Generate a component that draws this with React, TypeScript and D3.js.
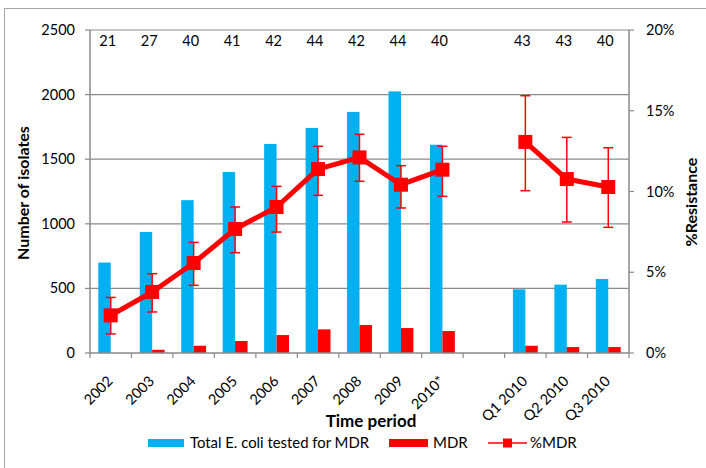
import React from "react";
import * as d3 from "d3";

const categories = ["2002", "2003", "2004", "2005", "2006", "2007", "2008", "2009", "2010*", "", "Q1 2010", "Q2 2010", "Q3 2010"];
const totalTested = [700, 937, 1183, 1401, 1618, 1742, 1866, 2025, 1612, null, 493, 529, 573];
const mdrCounts = [0, 25, 56, 93, 139, 183, 217, 193, 170, null, 56, 46, 46];
const pctMDR = [2.33, 3.78, 5.57, 7.68, 9.04, 11.39, 12.11, 10.42, 11.35, null, 13.07, 10.77, 10.28];
const pctHigh = [3.44, 4.91, 6.85, 9.04, 10.32, 12.8, 13.54, 11.6, 12.8, null, 15.93, 13.35, 12.71];
const pctLow = [1.18, 2.54, 4.19, 6.21, 7.49, 9.76, 10.63, 8.98, 9.7, null, 10.05, 8.11, 7.78];
const nLabels = ["21", "27", "40", "41", "42", "44", "42", "44", "40", "", "43", "43", "40"];
const leftTicks = [0, 500, 1000, 1500, 2000, 2500];
const rightTicks = [0, 5, 10, 15, 20];

const W = 706, H = 468;
const M = { left: 90, right: 629, top: 30, bottom: 353 };
const BLUE = "#00B0F0";
const RED = "#FF0000";
const GRID = "#8a8a8a";
const FONT = "Lato, 'Liberation Sans', sans-serif";

export default function App() {
  const x = d3.scaleBand<string>().domain(categories.map((c, i) => i + "")).range([M.left, M.right]).padding(0);
  const bw = x.bandwidth();
  const yL = d3.scaleLinear().domain([0, 2500]).range([M.bottom, M.top]);
  const yR = d3.scaleLinear().domain([0, 20]).range([M.bottom, M.top]);
  const cx = (i: number) => (x(i + "") as number) + bw / 2;

  const line = d3.line<number | null>()
    .defined((d) => d !== null)
    .x((_, i) => cx(i))
    .y((d) => yR(d as number));

  const boundaries = d3.range(categories.length + 1).map((i) => M.left + i * bw);

  return (
    <svg width={W} height={H} style={{ position: "absolute", left: 0, top: 0, fontFamily: FONT }}>
      <rect x={0} y={0} width={W} height={H} fill="#fff" />
      <rect x={4.5} y={8.5} width={W + 20} height={H + 20} fill="none" stroke="#a6a6a6" strokeWidth={1} />

      {/* gridlines */}
      {leftTicks.slice(1).map((t) => (
        <line key={t} x1={M.left} x2={M.right} y1={yL(t)} y2={yL(t)} stroke={GRID} strokeWidth={1.2} />
      ))}

      {/* bars */}
      {totalTested.map((v, i) =>
        v === null ? null : (
          <rect key={"b" + i} x={(x(i + "") as number) + bw * 0.2} y={yL(v)} width={bw * 0.3} height={M.bottom - yL(v)} fill={BLUE} />
        )
      )}
      {mdrCounts.map((v, i) =>
        v === null ? null : (
          <rect key={"r" + i} x={(x(i + "") as number) + bw * 0.5} y={yL(v)} width={bw * 0.3} height={M.bottom - yL(v)} fill={RED} />
        )
      )}

      {/* axes */}
      <line x1={M.left} x2={M.left} y1={M.top} y2={M.bottom} stroke={GRID} strokeWidth={1.5} />
      <line x1={M.right} x2={M.right} y1={M.top} y2={M.bottom} stroke={GRID} strokeWidth={1.5} />
      <line x1={M.left} x2={M.right} y1={M.bottom} y2={M.bottom} stroke={GRID} strokeWidth={1.5} />
      {leftTicks.map((t) => (
        <g key={"lt" + t}>
          <line x1={M.left - 5} x2={M.left} y1={yL(t)} y2={yL(t)} stroke={GRID} strokeWidth={1.2} />
          <text x={75} y={yL(t)} dy="0.35em" textAnchor="end" fontSize={14.5} fill="#000">{t}</text>
        </g>
      ))}
      {rightTicks.map((t) => (
        <g key={"rt" + t}>
          <line x1={M.right} x2={M.right + 5} y1={yR(t)} y2={yR(t)} stroke={GRID} strokeWidth={1.2} />
          <text x={646} y={yR(t)} dy="0.35em" textAnchor="start" fontSize={14.5} fill="#000">{t + "%"}</text>
        </g>
      ))}
      {boundaries.map((b, i) => (
        <line key={"xt" + i} x1={b} x2={b} y1={M.bottom} y2={M.bottom + 5} stroke={GRID} strokeWidth={1.2} />
      ))}
      {categories.map((c, i) => (
        <text key={"xl" + i} transform={`translate(${cx(i) + 3},${M.bottom + 29}) rotate(-45)`} textAnchor="end" fontSize={14.5} fill="#000">{c}</text>
      ))}

      {/* axis titles */}
      <text transform={`translate(29,193) rotate(-90)`} textAnchor="middle" fontSize={16} fontWeight="bold" fill="#000">Number of isolates</text>
      <text transform={`translate(697,202) rotate(-90)`} textAnchor="middle" fontSize={16} fontWeight="bold" fill="#000">%Resistance</text>
      <text x={371} y={427} textAnchor="middle" fontSize={17} fontWeight="bold" fill="#000">Time period</text>

      {/* n labels */}
      {nLabels.map((n, i) => (
        <text key={"n" + i} x={cx(i) - 3} y={46} textAnchor="middle" fontSize={14.5} fill="#000">{n}</text>
      ))}

      {/* %MDR line */}
      <path d={line(pctMDR) || ""} fill="none" stroke={RED} strokeWidth={5} strokeLinejoin="round" />
      {pctMDR.map((v, i) =>
        v === null ? null : (
          <g key={"e" + i} stroke={RED} strokeWidth={1.5}>
            <line x1={cx(i)} x2={cx(i)} y1={yR(pctHigh[i] as number)} y2={yR(pctLow[i] as number)} />
            <line x1={cx(i) - 5} x2={cx(i) + 5} y1={yR(pctHigh[i] as number)} y2={yR(pctHigh[i] as number)} />
            <line x1={cx(i) - 5} x2={cx(i) + 5} y1={yR(pctLow[i] as number)} y2={yR(pctLow[i] as number)} />
          </g>
        )
      )}
      {pctMDR.map((v, i) =>
        v === null ? null : (
          <rect key={"m" + i} x={cx(i) - 7} y={yR(v) - 7} width={14} height={14} fill={RED} />
        )
      )}

      {/* legend */}
      <rect x={148} y={439} width={36} height={8} fill={BLUE} />
      <text x={190} y={448} fontSize={15} fill="#000" textLength={179} lengthAdjust="spacingAndGlyphs">Total E. coli tested for MDR</text>
      <rect x={389} y={439} width={39} height={8} fill={RED} />
      <text x={433} y={448} fontSize={15} fill="#000">MDR</text>
      <line x1={488} x2={527} y1={443} y2={443} stroke={RED} strokeWidth={1.5} />
      <rect x={503} y={438.5} width={9} height={9} fill={RED} />
      <text x={530} y={448} fontSize={15} fill="#000">%MDR</text>
    </svg>
  );
}
